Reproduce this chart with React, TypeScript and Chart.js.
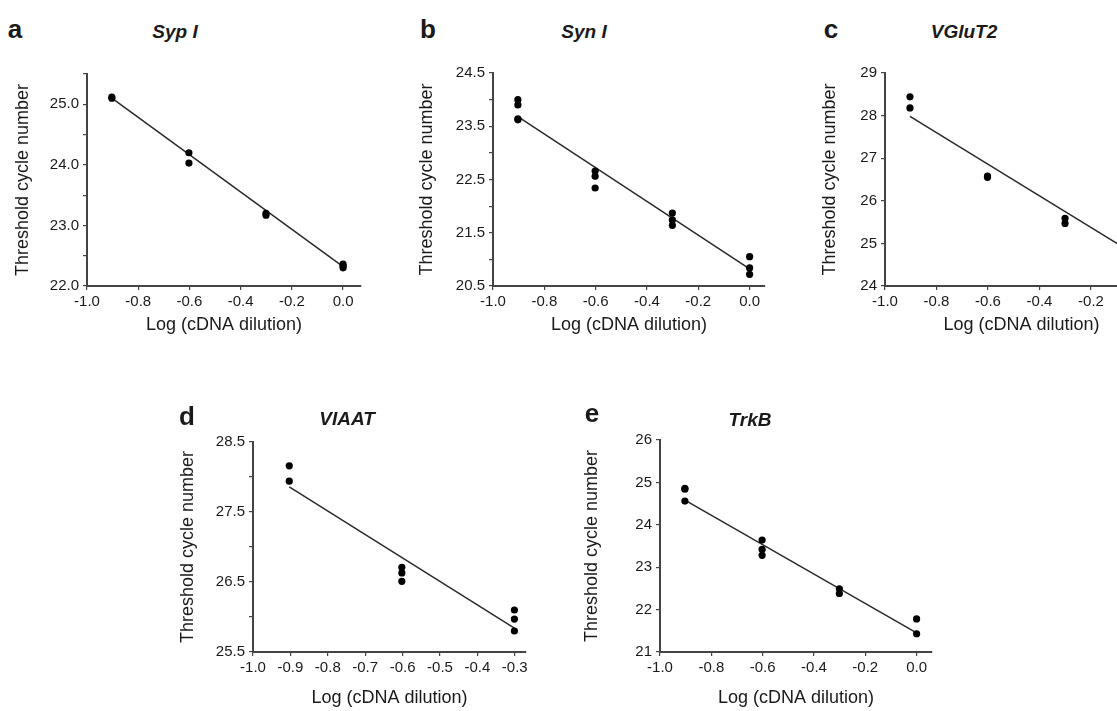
import React, { useEffect, useRef } from "react";
import { Chart, registerables } from "chart.js";

Chart.register(...registerables);

// ---------- data ----------
const X_TICKS_FULL = [-1.0, -0.8, -0.6, -0.4, -0.2, 0.0];
const X_TICKS_VIAAT = [-1.0, -0.9, -0.8, -0.7, -0.6, -0.5, -0.4, -0.3];

// Syp I
const SYP_X = [-0.903, -0.903, -0.602, -0.602, -0.301, -0.301, 0, 0, 0];
const SYP_Y = [25.12, 25.1, 24.2, 24.03, 23.2, 23.17, 22.36, 22.33, 22.3];
const SYP_FIT_X = [-0.903, 0];
const SYP_FIT_Y = [25.1, 22.32];
const SYP_Y_TICKS = [22, 22.5, 23, 23.5, 24, 24.5, 25, 25.5];
const SYP_Y_LABELS = [22, 23, 24, 25];

// Syn I
const SYN_X = [-0.903, -0.903, -0.903, -0.903, -0.602, -0.602, -0.602, -0.301, -0.301, -0.301, 0, 0, 0];
const SYN_Y = [24.0, 23.9, 23.64, 23.62, 22.66, 22.56, 22.34, 21.87, 21.74, 21.64, 21.05, 20.84, 20.72];
const SYN_FIT_X = [-0.903, 0];
const SYN_FIT_Y = [23.68, 20.82];
const SYN_Y_TICKS = [20.5, 21, 21.5, 22, 22.5, 23, 23.5, 24, 24.5];
const SYN_Y_LABELS = [20.5, 21.5, 22.5, 23.5, 24.5];

// VGluT2
const VGLUT_X = [-0.903, -0.903, -0.602, -0.602, -0.301, -0.301, 0, 0];
const VGLUT_Y = [28.44, 28.18, 26.58, 26.55, 25.59, 25.47, 24.7, 24.5];
const VGLUT_FIT_X = [-0.903, 0];
const VGLUT_FIT_Y = [27.98, 24.63];
const VGLUT_Y_TICKS = [24, 25, 26, 27, 28, 29];
const VGLUT_Y_LABELS = [24, 25, 26, 27, 28, 29];

// VIAAT
const VIAAT_X = [-0.903, -0.903, -0.602, -0.602, -0.602, -0.301, -0.301, -0.301];
const VIAAT_Y = [28.16, 27.94, 26.71, 26.63, 26.51, 26.1, 25.97, 25.8];
const VIAAT_FIT_X = [-0.903, -0.301];
const VIAAT_FIT_Y = [27.86, 25.84];
const VIAAT_Y_TICKS = [25.5, 26, 26.5, 27, 27.5, 28, 28.5];
const VIAAT_Y_LABELS = [25.5, 26.5, 27.5, 28.5];

// TrkB
const TRKB_X = [-0.903, -0.903, -0.903, -0.602, -0.602, -0.602, -0.301, -0.301, 0, 0];
const TRKB_Y = [24.86, 24.84, 24.56, 23.64, 23.42, 23.28, 22.49, 22.38, 21.78, 21.43];
const TRKB_FIT_X = [-0.903, 0];
const TRKB_FIT_Y = [24.58, 21.45];
const TRKB_Y_TICKS = [21, 22, 23, 24, 25, 26];
const TRKB_Y_LABELS = [21, 22, 23, 24, 25, 26];

const Y_TITLE = "Threshold cycle number";
const X_TITLE = "Log (cDNA dilution)";

// ---------- layout ----------
const FONT = '"Liberation Sans", Arial, Helvetica, sans-serif';
const PAD_T = 16;
const PAD_R = 26;

type PanelCfg = {
  xs: number[]; ys: number[]; fx: number[]; fy: number[];
  xTicks: number[]; xMax: number;
  yTicks: number[]; yLabels: number[]; yDec: number;
  plotL: number; plotR: number; plotT: number; plotB: number;
  yAxisW: number; xAxisH: number;
};

const PANELS: PanelCfg[] = [
  { xs: SYP_X, ys: SYP_Y, fx: SYP_FIT_X, fy: SYP_FIT_Y, xTicks: X_TICKS_FULL, xMax: 0.07,
    yTicks: SYP_Y_TICKS, yLabels: SYP_Y_LABELS, yDec: 1,
    plotL: 87, plotR: 361, plotT: 74, plotB: 286, yAxisW: 75, xAxisH: 50 },
  { xs: SYN_X, ys: SYN_Y, fx: SYN_FIT_X, fy: SYN_FIT_Y, xTicks: X_TICKS_FULL, xMax: 0.06,
    yTicks: SYN_Y_TICKS, yLabels: SYN_Y_LABELS, yDec: 1,
    plotL: 493, plotR: 765, plotT: 73, plotB: 286, yAxisW: 77, xAxisH: 50 },
  { xs: VGLUT_X, ys: VGLUT_Y, fx: VGLUT_FIT_X, fy: VGLUT_FIT_Y, xTicks: X_TICKS_FULL, xMax: 0.06,
    yTicks: VGLUT_Y_TICKS, yLabels: VGLUT_Y_LABELS, yDec: 0,
    plotL: 885, plotR: 1158, plotT: 73, plotB: 286, yAxisW: 66, xAxisH: 50 },
  { xs: VIAAT_X, ys: VIAAT_Y, fx: VIAAT_FIT_X, fy: VIAAT_FIT_Y, xTicks: X_TICKS_VIAAT, xMax: -0.27,
    yTicks: VIAAT_Y_TICKS, yLabels: VIAAT_Y_LABELS, yDec: 1,
    plotL: 253, plotR: 526, plotT: 442, plotB: 652, yAxisW: 76, xAxisH: 57 },
  { xs: TRKB_X, ys: TRKB_Y, fx: TRKB_FIT_X, fy: TRKB_FIT_Y, xTicks: X_TICKS_FULL, xMax: 0.06,
    yTicks: TRKB_Y_TICKS, yLabels: TRKB_Y_LABELS, yDec: 0,
    plotL: 660, plotR: 932, plotT: 440, plotB: 652, yAxisW: 79, xAxisH: 57 },
];

const LABELS = [
  { text: "a", x: 15, base: 38, size: 26, italic: false },
  { text: "Syp I", x: 175, base: 38, size: 19, italic: true },
  { text: "b", x: 428, base: 38, size: 26, italic: false },
  { text: "Syn I", x: 584, base: 38, size: 19, italic: true },
  { text: "c", x: 831, base: 38, size: 26, italic: false },
  { text: "VGluT2", x: 964, base: 38, size: 19, italic: true },
  { text: "d", x: 187, base: 425, size: 26, italic: false },
  { text: "VIAAT", x: 347, base: 425, size: 19, italic: true },
  { text: "e", x: 592, base: 422, size: 26, italic: false },
  { text: "TrkB", x: 750, base: 426, size: 19, italic: true },
];

const TEXT = "#1a1a1a";
const AXIS = "#444";

function Panel({ cfg }: { cfg: PanelCfg }) {
  const ref = useRef<HTMLCanvasElement | null>(null);
  const left = cfg.plotL - cfg.yAxisW;
  const top = cfg.plotT - PAD_T;
  const width = cfg.plotR + PAD_R - left;
  const height = cfg.plotB + cfg.xAxisH - top;

  useEffect(() => {
    if (!ref.current) return;
    const pts = cfg.xs.map((x, i) => ({ x, y: cfg.ys[i] }));
    const fit = cfg.fx.map((x, i) => ({ x, y: cfg.fy[i] }));
    const grid = {
      display: true, drawOnChartArea: false, drawTicks: true, tickLength: 4,
      color: AXIS, lineWidth: 1.2,
    };
    const border = { display: true, color: AXIS, width: 2 };
    const chart = new Chart(ref.current, {
      type: "scatter",
      data: {
        datasets: [
          { data: pts, pointRadius: 3.6, pointBackgroundColor: "#000", pointBorderColor: "#000",
            pointBorderWidth: 0, showLine: false },
          { data: fit, showLine: true, borderColor: "#2a2a2a", borderWidth: 1.5, pointRadius: 0,
            fill: false },
        ],
      },
      options: {
        animation: false,
        responsive: false,
        devicePixelRatio: 1,
        layout: { padding: { top: PAD_T, right: PAD_R, left: 0, bottom: 0 } },
        plugins: { legend: { display: false }, tooltip: { enabled: false } },
        scales: {
          x: {
            type: "linear", min: -1, max: cfg.xMax,
            afterBuildTicks: (s: any) => { s.ticks = cfg.xTicks.map((v) => ({ value: v })); },
            afterFit: (s: any) => { s.height = cfg.xAxisH; },
            ticks: {
              autoSkip: false, maxRotation: 0, padding: 3, color: TEXT,
              font: { family: FONT, size: 15 },
              callback: (v: any) => Number(v).toFixed(1),
            },
            grid, border,
            title: { display: true, text: X_TITLE, color: TEXT, padding: 0,
              font: { family: FONT, size: 18 } },
          },
          y: {
            type: "linear", min: cfg.yTicks[0], max: cfg.yTicks[cfg.yTicks.length - 1],
            afterBuildTicks: (s: any) => { s.ticks = cfg.yTicks.map((v) => ({ value: v })); },
            afterFit: (s: any) => { s.width = cfg.yAxisW; },
            ticks: {
              autoSkip: false, padding: 4, color: TEXT,
              font: { family: FONT, size: 15 },
              callback: (v: any) => {
                const n = Number(v);
                return cfg.yLabels.some((l) => Math.abs(l - n) < 1e-6) ? n.toFixed(cfg.yDec) : "";
              },
            },
            grid, border,
            title: { display: true, text: Y_TITLE, color: TEXT, padding: 0,
              font: { family: FONT, size: 18 } },
          },
        },
      },
    } as any);
    return () => chart.destroy();
  }, [cfg]);

  return (
    <canvas
      ref={ref}
      width={width}
      height={height}
      style={{ position: "absolute", left, top, width, height }}
    />
  );
}

export default function App() {
  return (
    <div style={{ position: "fixed", left: 0, top: 0, width: 1117, height: 711, overflow: "hidden",
      background: "#fff", fontFamily: FONT }}>
      {PANELS.map((p, i) => <Panel key={i} cfg={p} />)}
      {LABELS.map((l, i) => (
        <div key={"l" + i} style={{
          position: "absolute", left: l.x, top: l.base - 0.8465 * l.size,
          transform: "translateX(-50%)", fontSize: l.size, lineHeight: `${l.size}px`,
          fontWeight: "bold", fontStyle: l.italic ? "italic" : "normal", color: TEXT,
          whiteSpace: "nowrap",
        }}>{l.text}</div>
      ))}
    </div>
  );
}
